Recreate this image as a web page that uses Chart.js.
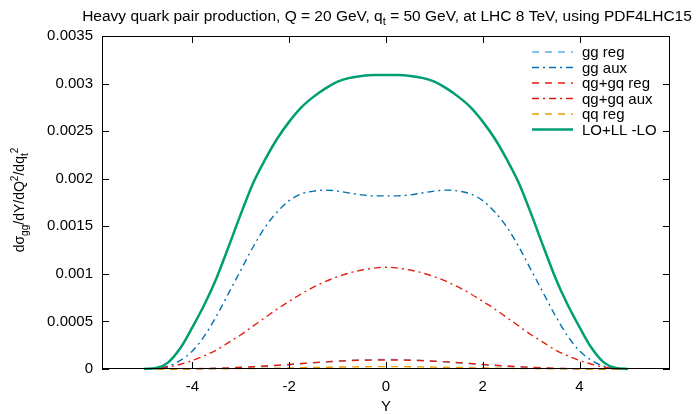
<!DOCTYPE html>
<html><head><meta charset="utf-8">
<script src="https://cdn.jsdelivr.net/npm/chart.js@4.4.1/dist/chart.umd.min.js"></script>
<style>html,body{margin:0;padding:0;background:#fff}canvas{display:block}</style>
</head><body>
<canvas id="c" width="698" height="414"></canvas>
<script>
const Y = [-5,-4.75,-4.5,-4.25,-4,-3.75,-3.5,-3.25,-3,-2.75,-2.5,-2.25,-2,-1.75,-1.5,-1.25,-1,-0.75,-0.5,-0.25,0,0.25,0.5,0.75,1,1.25,1.5,1.75,2,2.25,2.5,2.75,3,3.25,3.5,3.75,4,4.25,4.5,4.75,5];
const loLL = [0,0.00001,0.00007,0.00022,0.00044,0.00068,0.00096,0.00129,0.00163,0.00195,0.0022,0.00242,0.0026,0.00275,0.00286,0.00295,0.00302,0.00306,0.00308,0.00309,0.00309,0.00309,0.00308,0.00306,0.00302,0.00295,0.00286,0.00275,0.0026,0.00242,0.0022,0.00195,0.00163,0.00129,0.00096,0.00068,0.00044,0.00022,0.00007,0.00001,0];
const ggAux = [0,0.000005,0.00003,0.00009,0.00019,0.00035,0.00056,0.0008,0.00104,0.00128,0.00149,0.00165,0.00177,0.00184,0.00187,0.00188,0.00187,0.00185,0.00183,0.00182,0.00182,0.00182,0.00183,0.00185,0.00187,0.00188,0.00187,0.00184,0.00177,0.00165,0.00149,0.00128,0.00104,0.0008,0.00056,0.00035,0.00019,0.00009,0.00003,0.000005,0];
const qgAux = [0,0.000005,0.00002,0.00005,0.00009,0.00014,0.0002,0.00028,0.00036,0.00045,0.00054,0.00063,0.00071,0.00079,0.00086,0.00092,0.00097,0.00101,0.00104,0.00106,0.00107,0.00106,0.00104,0.00101,0.00097,0.00092,0.00086,0.00079,0.00071,0.00063,0.00054,0.00045,0.00036,0.00028,0.0002,0.00014,0.00009,0.00005,0.00002,0.000005,0];
const ggReg = [0,0,0,0.000001,0.000002,0.000003,0.000006,0.000009,0.000014,0.00002,0.000027,0.000035,0.000044,0.000054,0.000064,0.000074,0.000083,0.00009,0.000096,0.000099,0.0001,0.000099,0.000096,0.00009,0.000083,0.000074,0.000064,0.000054,0.000044,0.000035,0.000027,0.00002,0.000014,0.000009,0.000006,0.000003,0.000002,0.000001,0,0,0];
const qgReg = [0,0,0.0000005,0.000001,0.000003,0.000005,0.000008,0.000012,0.000018,0.000024,0.000032,0.00004,0.000049,0.000058,0.000067,0.000075,0.000082,0.000088,0.000092,0.000094,0.000095,0.000094,0.000092,0.000088,0.000082,0.000075,0.000067,0.000058,0.000049,0.00004,0.000032,0.000024,0.000018,0.000012,0.000008,0.000005,0.000003,0.000001,0.0000005,0,0];
const qqReg = [0,0,0,0,0.000001,0.000001,0.000002,0.000003,0.000004,0.000005,0.000007,0.000009,0.000011,0.000013,0.000016,0.000018,0.00002,0.000022,0.000024,0.000025,0.000025,0.000025,0.000024,0.000022,0.00002,0.000018,0.000016,0.000013,0.000011,0.000009,0.000007,0.000005,0.000004,0.000003,0.000002,0.000001,0.000001,0,0,0,0];
const xTicks = [-4,-2,0,2,4];
const yTicks = [0,0.0005,0.001,0.0015,0.002,0.0025,0.003,0.0035];
const seriesNames = ['gg reg','gg aux','qg+gq reg','qg+gq aux','qq reg','LO+LL -LO'];

const FONT = '"Liberation Sans", Arial, Helvetica, sans-serif';
const styles = [
  {c:'#56b4e9', d:[7,6], w:1.4},
  {c:'#0072b2', d:[7,4,2,4], w:1.4},
  {c:'#e51e10', d:[7,6], w:1.4},
  {c:'#e51e10', d:[7,4,2,4], w:1.4},
  {c:'#e69f00', d:[7,6], w:1.4},
  {c:'#009e73', d:[], w:2.5}
];
const seriesData = [ggReg, ggAux, qgReg, qgAux, qqReg, loLL];

function drawRich(ctx, segs, x, y, size, align) {
  const widths = segs.map(s => { ctx.font = (s.s ? size*0.72 : size) + 'px ' + FONT; return ctx.measureText(s.t).width; });
  const total = widths.reduce((a,b)=>a+b,0);
  let cx = align === 'center' ? x - total/2 : (align === 'right' ? x - total : x);
  segs.forEach((s,i) => {
    ctx.font = (s.s ? size*0.72 : size) + 'px ' + FONT;
    const dy = s.s === -1 ? size*0.28 : (s.s === 1 ? -size*0.42 : 0);
    ctx.fillText(s.t, cx, y + dy);
    cx += widths[i];
  });
}

const deco = {
  id:'deco',
  afterDraw(chart){
    const {ctx, chartArea:a, scales:{x, y}} = chart;
    ctx.save();
    ctx.strokeStyle = '#000'; ctx.lineWidth = 1; ctx.setLineDash([]);
    ctx.strokeRect(a.left+0.5, a.top+0.5, a.right-a.left-1, a.bottom-a.top-1);
    ctx.beginPath();
    xTicks.forEach(v => { const p = Math.round(x.getPixelForValue(v))+0.5;
      ctx.moveTo(p, a.bottom); ctx.lineTo(p, a.bottom-7);
      ctx.moveTo(p, a.top); ctx.lineTo(p, a.top+7); });
    yTicks.forEach(v => { const p = Math.round(y.getPixelForValue(v))+0.5;
      ctx.moveTo(a.left, p); ctx.lineTo(a.left+7, p);
      ctx.moveTo(a.right, p); ctx.lineTo(a.right-7, p); });
    ctx.stroke();
    // legend
    ctx.textBaseline = 'middle'; ctx.fillStyle = '#000';
    seriesNames.forEach((n,i) => {
      const ly = 52 + i*15.5;
      const st = styles[i];
      ctx.strokeStyle = st.c; ctx.lineWidth = st.w; ctx.setLineDash(st.d);
      ctx.beginPath(); ctx.moveTo(532, ly); ctx.lineTo(573, ly); ctx.stroke();
      ctx.setLineDash([]);
      ctx.font = '15px ' + FONT; ctx.textAlign = 'left';
      ctx.fillText(n, 582, ly+1);
    });
    // title
    ctx.textAlign = 'left'; ctx.textBaseline = 'alphabetic';
    drawRich(ctx, [{t:'Heavy quark pair production, Q = 20 GeV, q'},{t:'t',s:-1},{t:' = 50 GeV, at LHC 8 TeV, using PDF4LHC15'}], 387, 21, 15.5, 'center');
    // x title
    ctx.font = '15px ' + FONT; ctx.textAlign = 'center';
    ctx.fillText('Y', (a.left+a.right)/2, 411);
    // y title
    ctx.translate(24, 200); ctx.rotate(-Math.PI/2); ctx.textAlign = 'left';
    drawRich(ctx, [{t:'dσ'},{t:'gg',s:-1},{t:'/dY/dQ'},{t:'2',s:1},{t:'/dq'},{t:'t',s:-1},{t:'2',s:1}], 0, 0, 14, 'center');
    ctx.restore();
  }
};

new Chart(document.getElementById('c'), {
  type:'line',
  data:{ datasets: seriesNames.map((n,i) => ({
    label:n,
    data: Y.map((v,k) => ({x:v, y:seriesData[i][k]})),
    borderColor: styles[i].c, borderWidth: styles[i].w, borderDash: styles[i].d,
    pointRadius:0, fill:false, cubicInterpolationMode:'monotone',
    order: 5 - i, clip: 4
  }))},
  options:{
    responsive:false, animation:false, devicePixelRatio:1,
    layout:{padding:{top:36, right:28, left:0, bottom:0}},
    plugins:{legend:{display:false}, tooltip:{enabled:false}, title:{display:false}},
    scales:{
      x:{type:'linear', min:-5.87, max:5.87,
        afterBuildTicks: s => { s.ticks = xTicks.map(v => ({value:v})); },
        afterFit: s => { s.height = 45; },
        grid:{display:false, drawTicks:false}, border:{display:false},
        ticks:{font:{size:15, family:FONT}, color:'#000', padding:9, maxRotation:0, callback: v => String(v)}},
      y:{type:'linear', min:0, max:0.0035,
        afterBuildTicks: s => { s.ticks = yTicks.map(v => ({value:v})); },
        afterFit: s => { s.width = 102; },
        grid:{display:false, drawTicks:false}, border:{display:false},
        ticks:{font:{size:15, family:FONT}, color:'#000', padding:9, callback: v => String(+Number(v).toFixed(4))}}
    }
  },
  plugins:[deco]
});
</script>
</body></html>
